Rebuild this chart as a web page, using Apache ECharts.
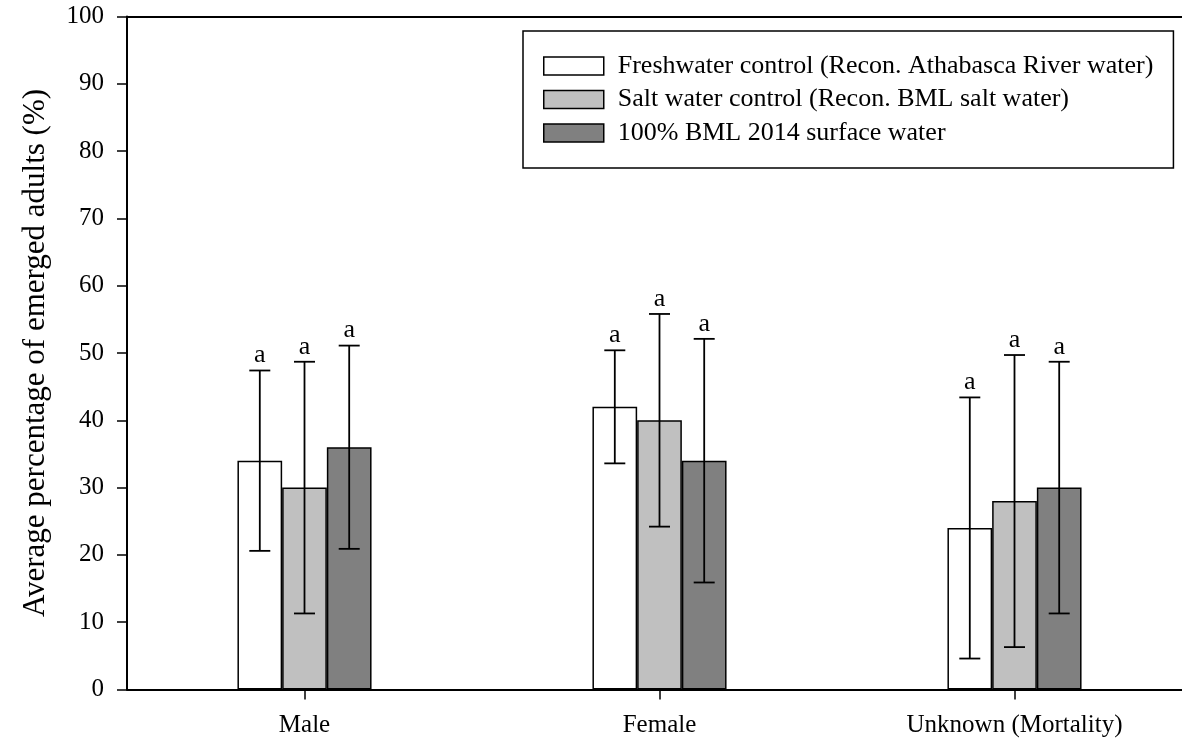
<!DOCTYPE html>
<html>
<head>
<meta charset="utf-8">
<script src="https://cdn.jsdelivr.net/npm/echarts@6/dist/echarts.min.js"></script>
<style>html,body{margin:0;padding:0;background:#fff}#c{width:1182px;height:742px}</style>
</head>
<body>
<div id="c"></div>
<script>
// ---- data ----
const categories = ['Male', 'Female', 'Unknown (Mortality)'];
const seriesNames = [
  'Freshwater control (Recon. Athabasca River water)',
  'Salt water control (Recon. BML salt water)',
  '100% BML 2014 surface water'
];
const freshMean = [34, 42, 24];
const saltMean = [30, 40, 28];
const bmlMean = [36, 34, 30];
const freshSD = [13.4, 8.4, 19.4];
const saltSD = [18.7, 15.8, 21.7];
const bmlSD = [15.1, 18.1, 18.7];
const sigLetters = [['a', 'a', 'a'], ['a', 'a', 'a'], ['a', 'a', 'a']]; // [series][category]
const yTicks = [0, 10, 20, 30, 40, 50, 60, 70, 80, 90, 100];

const means = [freshMean, saltMean, bmlMean];
const sds = [freshSD, saltSD, bmlSD];
const colors = ['#ffffff', '#c0c0c0', '#808080'];
const FONT = '"Liberation Serif", "Times New Roman", serif';
const BAR_W = 44.7;

const errData = [];
for (let s = 0; s < 3; s++) {
  for (let c = 0; c < categories.length; c++) {
    errData.push([c, means[s][c], sds[s][c], s, sigLetters[s][c]]);
  }
}

const chart = echarts.init(document.getElementById('c'), null, {renderer: 'canvas'});

const barSeries = seriesNames.map((n, i) => ({
  name: n,
  type: 'bar',
  data: means[i],
  barWidth: BAR_W,
  barGap: '0%',
  itemStyle: {color: colors[i], borderColor: '#000', borderWidth: 1.5},
  emphasis: {disabled: true},
  z: 2
}));

const option = {
  animation: false,
  backgroundColor: '#fff',
  textStyle: {fontFamily: FONT},
  grid: {left: 127, top: 16.5, bottom: 52.5, width: 1065, outerBoundsMode: 'none', containLabel: false},
  legend: {
    data: seriesNames,
    orient: 'vertical',
    left: 523,
    top: 31,
    padding: [22, 20, 22, 20],
    itemGap: 7.5,
    itemWidth: 60,
    itemHeight: 18,
    borderColor: '#000',
    borderWidth: 1.5,
    icon: 'rect',
    selectedMode: false,
    itemStyle: {borderColor: '#000', borderWidth: 1.5},
    textStyle: {fontFamily: FONT, fontSize: 26, color: '#000', padding: [0, 0, 0, 9], lineHeight: 26}
  },
  xAxis: [{
    type: 'category',
    data: categories,
    axisLine: {lineStyle: {color: '#000', width: 1.8}},
    axisTick: {show: true, alignWithLabel: true, length: 10, lineStyle: {color: '#000', width: 1.5}},
    axisLabel: {color: '#000', fontSize: 25, fontFamily: FONT, margin: 23},
    splitLine: {show: false}
  }, {
    type: 'category',
    data: categories,
    position: 'top',
    axisLine: {lineStyle: {color: '#000', width: 2}},
    axisTick: {show: false},
    axisLabel: {show: false}
  }],
  yAxis: {
    type: 'value',
    min: 0,
    max: 100,
    interval: 10,
    name: 'Average percentage of emerged adults (%)',
    nameLocation: 'middle',
    nameGap: 76,
    nameTextStyle: {color: '#000', fontSize: 31, fontFamily: FONT},
    axisLine: {show: true, lineStyle: {color: '#000', width: 2}},
    axisTick: {show: true, length: 10, lineStyle: {color: '#000', width: 1.5}},
    axisLabel: {
      color: '#000', fontSize: 25, fontFamily: FONT, margin: 23,
      formatter: v => (yTicks.indexOf(v) >= 0 ? String(v) : '')
    },
    splitLine: {show: false}
  },
  series: barSeries.concat([{
    type: 'custom',
    name: 'errors',
    data: errData,
    z: 5,
    silent: true,
    renderItem: function (params, api) {
      const c = api.value(0), m = api.value(1), sd = api.value(2), s = api.value(3);
      const letter = errData[params.dataIndex][4];
      const cx = api.coord([c, 0])[0] + (s - 1) * BAR_W;
      const yt = api.coord([c, m + sd])[1];
      const yb = api.coord([c, m - sd])[1];
      const cap = 10.5;
      const st = {stroke: '#000', lineWidth: 1.8};
      return {
        type: 'group',
        children: [
          {type: 'line', shape: {x1: cx, y1: yt, x2: cx, y2: yb}, style: st},
          {type: 'line', shape: {x1: cx - cap, y1: yt, x2: cx + cap, y2: yt}, style: st},
          {type: 'line', shape: {x1: cx - cap, y1: yb, x2: cx + cap, y2: yb}, style: st},
          {type: 'text', x: cx, y: yt - 2, style: {text: letter, fill: '#000', font: '26px ' + FONT, textAlign: 'center', textVerticalAlign: 'bottom'}}
        ]
      };
    }
  }])
};
chart.setOption(option);
</script>
</body>
</html>
